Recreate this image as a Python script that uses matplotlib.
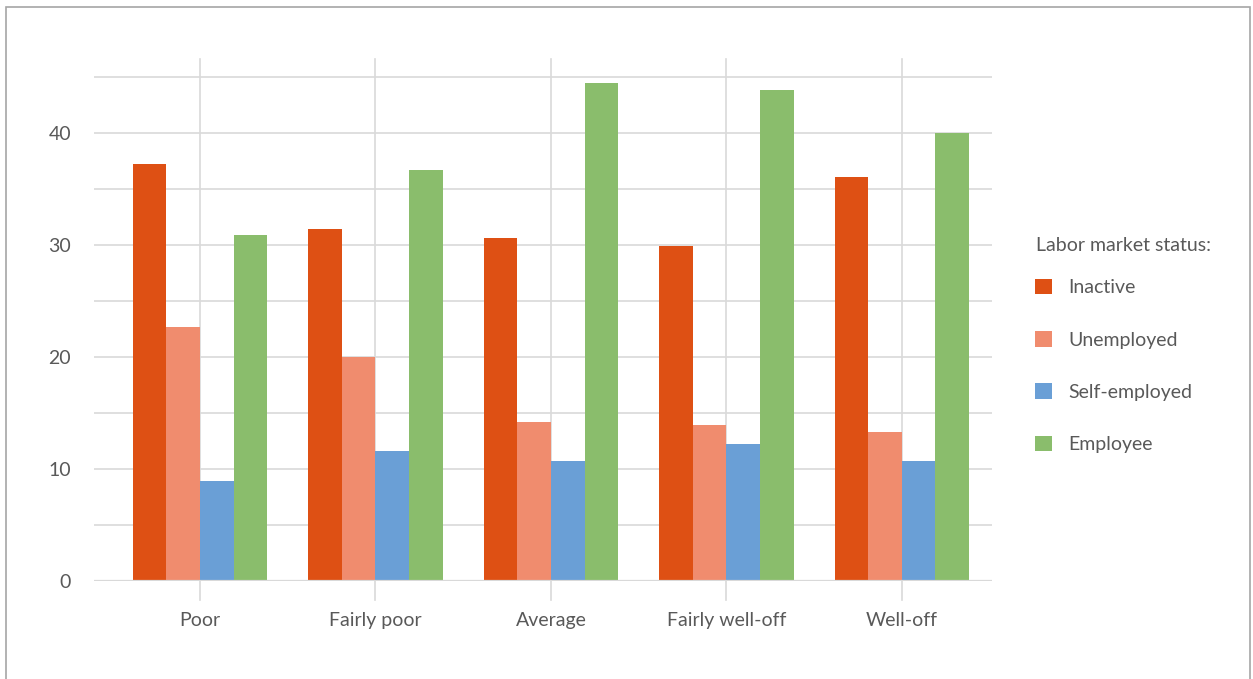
import matplotlib
matplotlib.use('Agg')
import matplotlib.pyplot as plt
import numpy as np

# data
categories = ['Poor', 'Fairly poor', 'Average', 'Fairly well-off', 'Well-off']
inactive = [37.2, 31.4, 30.6, 29.9, 36.1]
unemployed = [22.7, 20.0, 14.2, 13.9, 13.3]
self_employed = [8.9, 11.6, 10.7, 12.2, 10.7]
employee = [30.9, 36.7, 44.5, 43.8, 40.0]
series_names = ['Inactive', 'Unemployed', 'Self-employed', 'Employee']
y_ticks = [0, 10, 20, 30, 40]

colors = ['#DE5014', '#F08C6E', '#6A9FD6', '#8ABD6C']
grey_text = '#595959'
grid_col = '#D9D9D9'

plt.rcParams['font.family'] = ['Lato', 'DejaVu Sans']

fig = plt.figure(figsize=(12.53, 6.79), dpi=100)
ax = fig.add_axes([94 / 1253, 1 - 581 / 679, 898 / 1253, 522 / 679])

x = np.arange(len(categories))
width = 0.191
series = [inactive, unemployed, self_employed, employee]
for i, vals in enumerate(series):
    ax.bar(x + (i - 1.5) * width, vals, width, color=colors[i],
           label=series_names[i], zorder=3)

ax.set_xlim(-0.604, 4.513)
ax.set_ylim(0, 46.6)

# gridlines (major every 10, minor every 5, all same light grey)
for yv in np.arange(5, 50, 5):
    ax.axhline(yv, color=grid_col, lw=1.2, zorder=1)
ax.axhline(0, color=grid_col, lw=1.6, zorder=4)
for xv in x:
    ax.plot([xv, xv], [-1.7, 46.6], color=grid_col, lw=1.2, zorder=1,
            clip_on=False)

for s in ax.spines.values():
    s.set_visible(False)
ax.set_yticks(y_ticks)
ax.set_xticks(x)
ax.set_xticklabels(categories)
ax.tick_params(axis='both', length=0, colors=grey_text, labelsize=14)
ax.tick_params(axis='y', pad=16.5)
ax.tick_params(axis='x', pad=22.5)

# legend entries, title drawn separately so its gap can be set
leg = ax.legend(loc='upper left', bbox_to_anchor=(1.048, 0.5795),
                frameon=False, fontsize=14, labelcolor=grey_text,
                handlelength=0.87, handleheight=0.87, handletextpad=0.82,
                labelspacing=1.79, borderaxespad=0, borderpad=0)
fig.text(1036 / 1253, 1 - 245 / 679, 'Labor market status:', fontsize=14,
         color=grey_text, va='center', ha='left')

# outer chart border
border = plt.Rectangle((6 / 1253, -0.05), 1244 / 1253, 1.05 - 7 / 679,
                       transform=fig.transFigure, fill=False,
                       edgecolor='#A6A6A6', lw=1.2)
fig.patches.append(border)

fig.savefig('out.png', dpi=100)
plt.close(fig)
